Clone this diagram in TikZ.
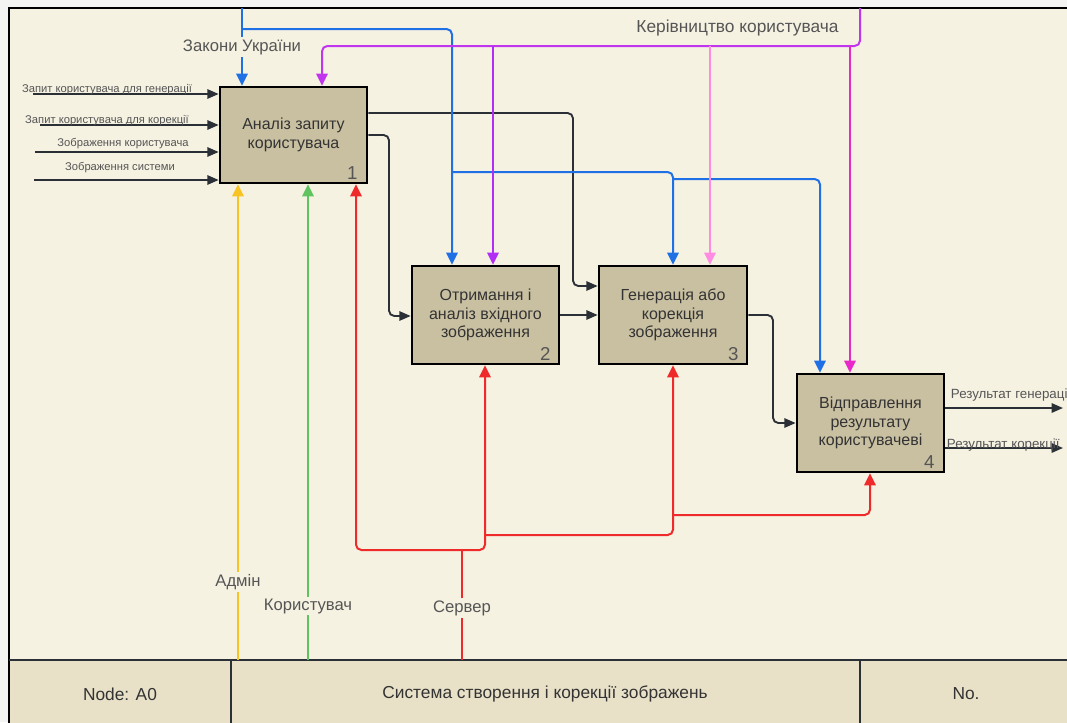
\documentclass[tikz,border=0pt]{standalone}
\usepackage{fontspec}
\setmainfont{Liberation Sans}
\usetikzlibrary{arrows.meta,calc}

\definecolor{paper}{HTML}{F6F2E2}
\definecolor{margin}{HTML}{F4F4F2}
\definecolor{boxfill}{HTML}{C9C0A2}
\definecolor{cellfill}{HTML}{E8E1C8}
\definecolor{ink}{HTML}{333333}
\definecolor{labelgray}{HTML}{555555}
\definecolor{wire}{HTML}{2B2F36}
\definecolor{lawblue}{HTML}{1F6FE5}
\definecolor{guideviolet}{HTML}{C235EE}
\definecolor{dropviolet}{HTML}{B22EF4}
\definecolor{droppink}{HTML}{FF8CE2}
\definecolor{dropmagenta}{HTML}{E828C8}
\definecolor{srvred}{HTML}{EE2A2A}
\definecolor{admyellow}{HTML}{F7C325}
\definecolor{usrgreen}{HTML}{5FC35F}

\tikzset{
  fnbox/.style={draw=black, line width=2pt, fill=boxfill, inner sep=0pt,
    align=center, text=ink, font=\fontsize{12}{14}\selectfont},
  boxnum/.style={text=labelgray, font=\fontsize{14}{14}\selectfont, inner sep=0pt},
  wireline/.style={draw=wire, line width=1.4pt, rounded corners=4pt,
    -{Triangle[width=7pt,length=8.5pt]}},
  ctrl/.style={line width=1.5pt, rounded corners=4pt,
    -{Triangle[width=8.5pt,length=9pt]}},
  inlabel/.style={text=labelgray, font=\fontsize{8.4}{9}\selectfont, inner sep=0.5pt, anchor=south},
  outlabel/.style={text=labelgray, font=\fontsize{10}{10}\selectfont, inner sep=0.5pt, anchor=south west},
  onwire/.style={text=labelgray, fill=paper, inner sep=1.5pt, font=\fontsize{12.5}{13}\selectfont},
  celltext/.style={text=ink, font=\fontsize{13}{13}\selectfont},
}

\begin{document}
\begin{tikzpicture}[x=0.75pt, y=-0.75pt]
\useasboundingbox (0,0) rectangle (1067,722);
\clip (0,0) rectangle (1067,722);

% sheet, working area and title strip
\fill[margin] (0,0) rectangle (1067,722);
\fill[paper] (9,8) rectangle (1080,660);
\fill[cellfill] (9,660) rectangle (1080,730);
\draw[black, line width=2pt] (1080,8) -- (9,8) -- (9,730);
\draw[wire, line width=2pt] (9,660) -- (1080,660);
\draw[wire, line width=2pt] (231,660) -- (231,730);
\draw[wire, line width=2pt] (860,660) -- (860,730);
\node[celltext] (cellnode) at (120,694) {Node: A0};
\node[celltext] (celltitle) at (545,694) {Система створення і корекції зображень};
\node[celltext] (cellno) at (966,694) {No.};

% activity boxes
\node[fnbox, minimum width=110.25pt, minimum height=72pt] (b1) at (293.5,135)
  {Аналіз запиту\\користувача};
\node[fnbox, minimum width=110.25pt, minimum height=73.5pt] (b2) at (485.5,315)
  {Отримання і\\аналіз вхідного\\зображення};
\node[fnbox, minimum width=111pt, minimum height=73.5pt] (b3) at (673,315)
  {Генерація або\\корекція\\зображення};
\node[fnbox, minimum width=110.25pt, minimum height=73.5pt] (b4) at (870.5,423)
  {Відправлення\\результату\\користувачеві};
\node[boxnum] (n1) at ($(b1.south east)+(-16,-11)$) {1};
\node[boxnum] (n2) at ($(b2.south east)+(-15,-11)$) {2};
\node[boxnum] (n3) at ($(b3.south east)+(-15,-11)$) {3};
\node[boxnum] (n4) at ($(b4.south east)+(-16,-11)$) {4};

% inputs of activity 1
\coordinate (in1) at (33,94);
\coordinate (in2) at (40,125);
\coordinate (in3) at (35,152);
\coordinate (in4) at (34,180);
\draw[wireline] (in1) -- (b1.west |- in1);
\draw[wireline] (in2) -- (b1.west |- in2);
\draw[wireline] (in3) -- (b1.west |- in3);
\draw[wireline] (in4) -- (b1.west |- in4);
\node[inlabel] (lin1) at (107,96) {Запит користувача для генерації};
\node[inlabel] (lin2) at (107,127) {Запит користувача для корекції};
\node[inlabel] (lin3) at (123,150) {Зображення користувача};
\node[inlabel] (lin4) at (120,174) {Зображення системи};

% flows between activities
\draw[wireline] (b1.east |- 0,113) -- (573,113) -- (573,286) -- (b3.west |- 0,286);
\draw[wireline] (b1.east) -- (389,135) -- (389,316) -- (b2.west |- 0,316);
\draw[wireline] (b2.east) -- (b3.west);
\draw[wireline] (b3.east) -- (773,315) -- (773,423) -- (b4.west);

% outputs of activity 4
\coordinate (out1) at (1063,408);
\coordinate (out2) at (1063,448);
\draw[wireline] (b4.east |- out1) -- (out1);
\draw[wireline] (b4.east |- out2) -- (out2);
\node[outlabel] (lout1) at (950,402) {Результат генерації};
\node[outlabel] (lout2) at (946,452) {Результат корекції};

% control: laws
\coordinate (lawtop) at (242,8);
\draw[ctrl, lawblue] (lawtop) -- (b1.north -| lawtop);
\draw[ctrl, lawblue] (242,29) -- (452,29) -- (452,0 |- b2.north);
\draw[ctrl, lawblue] (452,172) -- (673,172) -- (673,0 |- b3.north);
\draw[ctrl, lawblue] (673,179) -- (820,179) -- (820,0 |- b4.north);
\node[onwire] (llaw) at (242,47) {Закони України};

% control: user guide
\coordinate (guidetop) at (860,8);
\draw[ctrl, guideviolet] (guidetop) -- (860,46) -- (322,46) -- (322,0 |- b1.north);
\draw[ctrl, dropviolet] (493,46) -- (493,0 |- b2.north);
\draw[ctrl, droppink] (710,46) -- (710,0 |- b3.north);
\draw[ctrl, dropmagenta] (850,46) -- (850,0 |- b4.north);
\node[text=labelgray, font=\fontsize{13}{13}\selectfont] (lguide) at (737.5,28) {Керівництво користувача};

% mechanisms
\coordinate (admbot) at (238,660);
\coordinate (usrbot) at (308,660);
\coordinate (srvbot) at (462,660);
\draw[ctrl, admyellow] (admbot) -- (b1.south -| admbot);
\draw[ctrl, usrgreen] (usrbot) -- (b1.south -| usrbot);
\draw[srvred, line width=1.5pt] (srvbot) -- (462,550);
\draw[ctrl, srvred, {Triangle[width=8.5pt,length=9pt]}-{Triangle[width=8.5pt,length=9pt]}]
  (356,0 |- b1.south) -- (356,550) -- (485,550) -- (485,0 |- b2.south);
\draw[ctrl, srvred] (485,535) -- (673,535) -- (673,0 |- b3.south);
\draw[ctrl, srvred] (673,515) -- (870,515) -- (870,0 |- b4.south);
\node[onwire] (ladm) at (238,582) {Адмін};
\node[onwire] (lusr) at (308,606) {Користувач};
\node[onwire] (lsrv) at (462,608) {Сервер};
\end{tikzpicture}
\end{document}
